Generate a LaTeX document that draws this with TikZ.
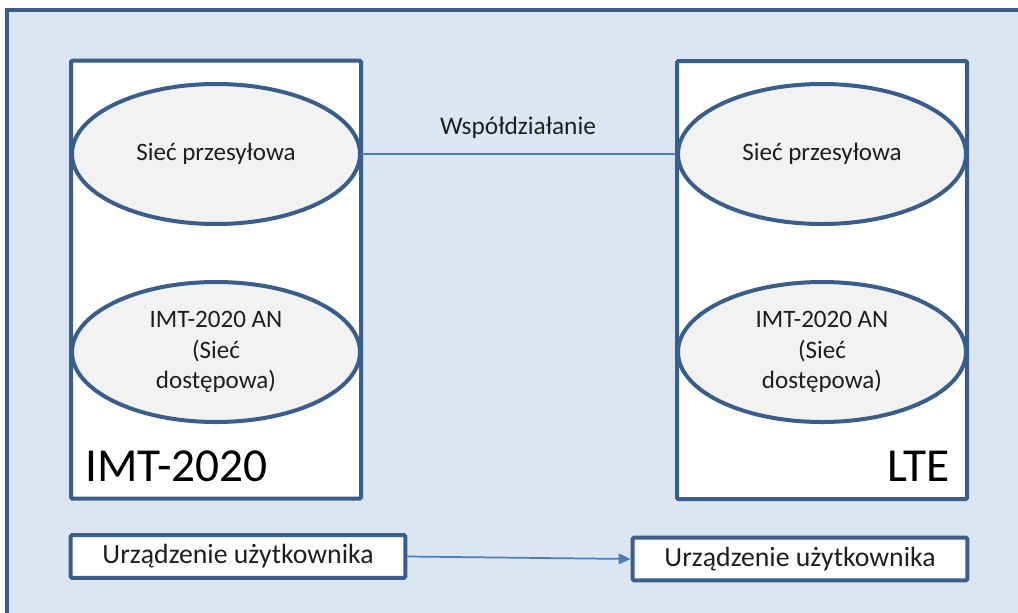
\documentclass[tikz,border=0pt]{standalone}
\usepackage{fontspec}
\setmainfont{Carlito}
\usetikzlibrary{shapes.geometric,arrows.meta}
\definecolor{bgblue}{RGB}{220,230,242}
\definecolor{frameblue}{RGB}{58,94,140}
\definecolor{lineblue}{RGB}{74,126,187}
\definecolor{ellgray}{RGB}{242,242,242}
\definecolor{textgray}{RGB}{30,30,30}
\tikzset{
  netbox/.style={draw=frameblue,line width=3pt,fill=white,rounded corners=1pt,minimum width=217.5pt,minimum height=328.5pt,inner sep=0pt},
  netell/.style={ellipse,draw=frameblue,line width=3pt,fill=ellgray,minimum width=216pt,minimum height=105pt,inner sep=0pt,align=center,text=textgray,font=\fontsize{18.8}{23}\selectfont},
  uebox/.style={draw=frameblue,line width=3pt,fill=white,rounded corners=1pt,minimum width=251pt,minimum height=32pt,inner sep=0pt,text=textgray,font=\fontsize{20.8}{24}\selectfont},
  biglabel/.style={inner sep=0pt,font=\fontsize{35.5}{40}\selectfont}
}
\begin{document}
\begin{tikzpicture}[x=0.75pt,y=0.75pt,yscale=-1]
        \useasboundingbox (0,0) rectangle (1018,612);

        %Shape: Rectangle [background]
        \draw [draw=frameblue,line width=3pt,fill=bgblue] (7,10) rectangle (1040,640) ;

        %Shape: Rectangle [IMT-2020]
        \draw (216,279.5) node [netbox] (imtbox) {};
        %Shape: Rectangle [LTE]
        \draw (822,280) node [netbox] (ltebox) {};

        %Shape: Ellipse
        \draw (216,154) node [netell] (imtcore) {Sieć przesyłowa};
        %Shape: Ellipse
        \draw (216,352) node [netell] (imtan) {IMT-2020 AN\\(Sieć\\dostępowa)};
        %Shape: Ellipse
        \draw (822,154) node [netell] (ltecore) {Sieć przesyłowa};
        %Shape: Ellipse
        \draw (822,352) node [netell] (ltean) {IMT-2020 AN\\(Sieć\\dostępowa)};

        %Shape: Rectangle
        \draw (238,556.5) node [uebox] (imtue) {Urządzenie użytkownika};
        %Shape: Rectangle
        \draw (800,559) node [uebox] (lteue) {Urządzenie użytkownika};

        %Straight Lines
        \draw [draw=lineblue,line width=1.3pt] (imtcore.east) -- (ltecore.west) ;
        %Straight Lines
        \draw [draw=lineblue,line width=1.3pt,-{Triangle[length=9pt,width=8pt]}] (imtue.east) -- (lteue.west) ;

        % Text Node
        \draw (518,128) node [text=textgray,font=\fontsize{19}{22}\selectfont] (interwork) {Współdziałanie};
        % Text Node
        \draw (85,481) node [biglabel,anchor=base west] (imtlabel) {IMT-2020};
        % Text Node
        \draw (950,481) node [biglabel,anchor=base east] (ltelabel) {LTE};

\end{tikzpicture}
\end{document}
